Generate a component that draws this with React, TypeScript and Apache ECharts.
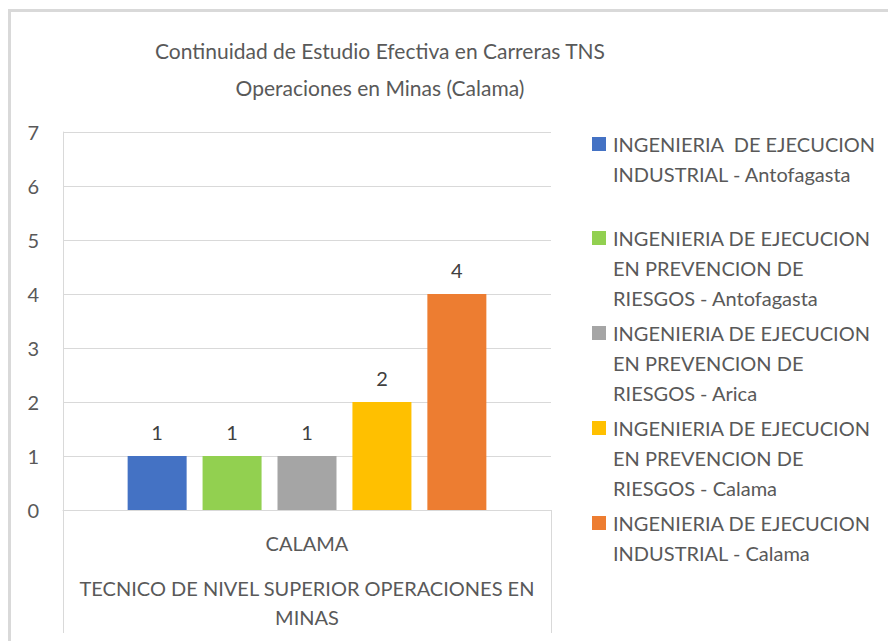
import React, { useEffect, useRef } from "react";
import * as echarts from "echarts";

const titleLines = ["Continuidad de Estudio Efectiva en Carreras TNS", "Operaciones en Minas (Calama)"];
const categories = ["CALAMA"];
const groupLabel = "TECNICO DE NIVEL SUPERIOR OPERACIONES EN\nMINAS";
const seriesNames = [
  "INGENIERIA  DE EJECUCION INDUSTRIAL - Antofagasta",
  "INGENIERIA DE EJECUCION EN PREVENCION DE RIESGOS - Antofagasta",
  "INGENIERIA DE EJECUCION EN PREVENCION DE RIESGOS - Arica",
  "INGENIERIA DE EJECUCION EN PREVENCION DE RIESGOS - Calama",
  "INGENIERIA DE EJECUCION INDUSTRIAL - Calama",
];
const legendLabels = [
  ["INGENIERIA  DE EJECUCION", "INDUSTRIAL - Antofagasta"],
  ["INGENIERIA DE EJECUCION", "EN PREVENCION DE", "RIESGOS - Antofagasta"],
  ["INGENIERIA DE EJECUCION", "EN PREVENCION DE", "RIESGOS - Arica"],
  ["INGENIERIA DE EJECUCION", "EN PREVENCION DE", "RIESGOS - Calama"],
  ["INGENIERIA DE EJECUCION", "INDUSTRIAL - Calama"],
];
const seriesValues = [[1], [1], [1], [2], [4]];
const seriesColors = ["#4472C4", "#92D050", "#A5A5A5", "#FFC000", "#ED7D31"];
const yTicks = { min: 0, max: 7, interval: 1 };

const FONT = "Lato";
const LEGEND_LH = 30;
const legendIconY = [144, 238, 333, 428, 523];

export default function App() {
  const ref = useRef<HTMLDivElement>(null);
  useEffect(() => {
    if (!ref.current) return;
    const chart = echarts.init(ref.current, undefined, { renderer: "svg" });
    const legends = seriesNames.map((name, i) => {
      const lines = legendLabels[i];
      const n = lines.length;
      // leading blank lines so the first text line sits level with the icon
      const text = new Array(n - 1).fill("").concat(lines).join("\n");
      return {
        data: [name],
        orient: "vertical",
        left: 592,
        top: legendIconY[i] - ((2 * n - 1) * LEGEND_LH) / 2,
        padding: 0,
        itemWidth: 14,
        itemHeight: 14,
        icon: "rect",
        selectedMode: false,
        formatter: () => text,
        textStyle: {
          color: "#595959",
          fontFamily: FONT,
          fontSize: 20,
          lineHeight: LEGEND_LH,
          padding: [0, 0, 0, 2],
        },
      };
    });
    chart.setOption({
      animation: false,
      backgroundColor: "#ffffff",
      title: {
        text: titleLines.join("\n"),
        left: 380,
        top: 32,
        padding: 0,
        textAlign: "center",
        textStyle: {
          color: "#595959",
          fontFamily: FONT,
          fontSize: 21,
          fontWeight: "normal",
          lineHeight: 37,
        },
      },
      graphic: [
        {
          type: "rect",
          silent: true,
          shape: { x: 9.5, y: 10.5, width: 1000, height: 1000 },
          style: { fill: "none", stroke: "#d9d9d9", lineWidth: 3 },
        },
      ],
      legend: legends,
      grid: { left: 63, right: 337, top: 132, bottom: 131, containLabel: false },
      xAxis: [
        {
          type: "category",
          data: categories,
          position: "bottom",
          axisLine: { show: true, lineStyle: { color: "#d9d9d9", width: 1 } },
          axisTick: { show: true, length: 123, alignWithLabel: false, lineStyle: { color: "#d9d9d9" } },
          axisLabel: { color: "#595959", fontFamily: FONT, fontSize: 20, margin: 23 },
        },
        {
          type: "category",
          data: [groupLabel],
          position: "bottom",
          gridIndex: 0,
          axisLine: { show: false },
          axisTick: { show: false },
          axisLabel: { color: "#595959", fontFamily: FONT, fontSize: 20, lineHeight: 29, margin: 63 },
        },
      ],
      yAxis: {
        type: "value",
        min: yTicks.min,
        max: yTicks.max,
        interval: yTicks.interval,
        axisLine: { show: true, lineStyle: { color: "#d9d9d9" } },
        axisTick: { show: false },
        axisLabel: { color: "#595959", fontFamily: FONT, fontSize: 20, margin: 24 },
        splitLine: { lineStyle: { color: "#d9d9d9", width: 1 } },
      },
      series: seriesNames.map((name, i) => ({
        type: "bar",
        name,
        data: seriesValues[i],
        barWidth: 59,
        barGap: "27%",
        itemStyle: { color: seriesColors[i] },
        label: {
          show: true,
          position: "top",
          distance: 14,
          color: "#404040",
          fontFamily: FONT,
          fontSize: 20,
        },
      })),
    });
    return () => chart.dispose();
  }, []);
  return (
    <div
      ref={ref}
      style={{ position: "fixed", left: 0, top: 0, width: 888, height: 641 }}
    />
  );
}
